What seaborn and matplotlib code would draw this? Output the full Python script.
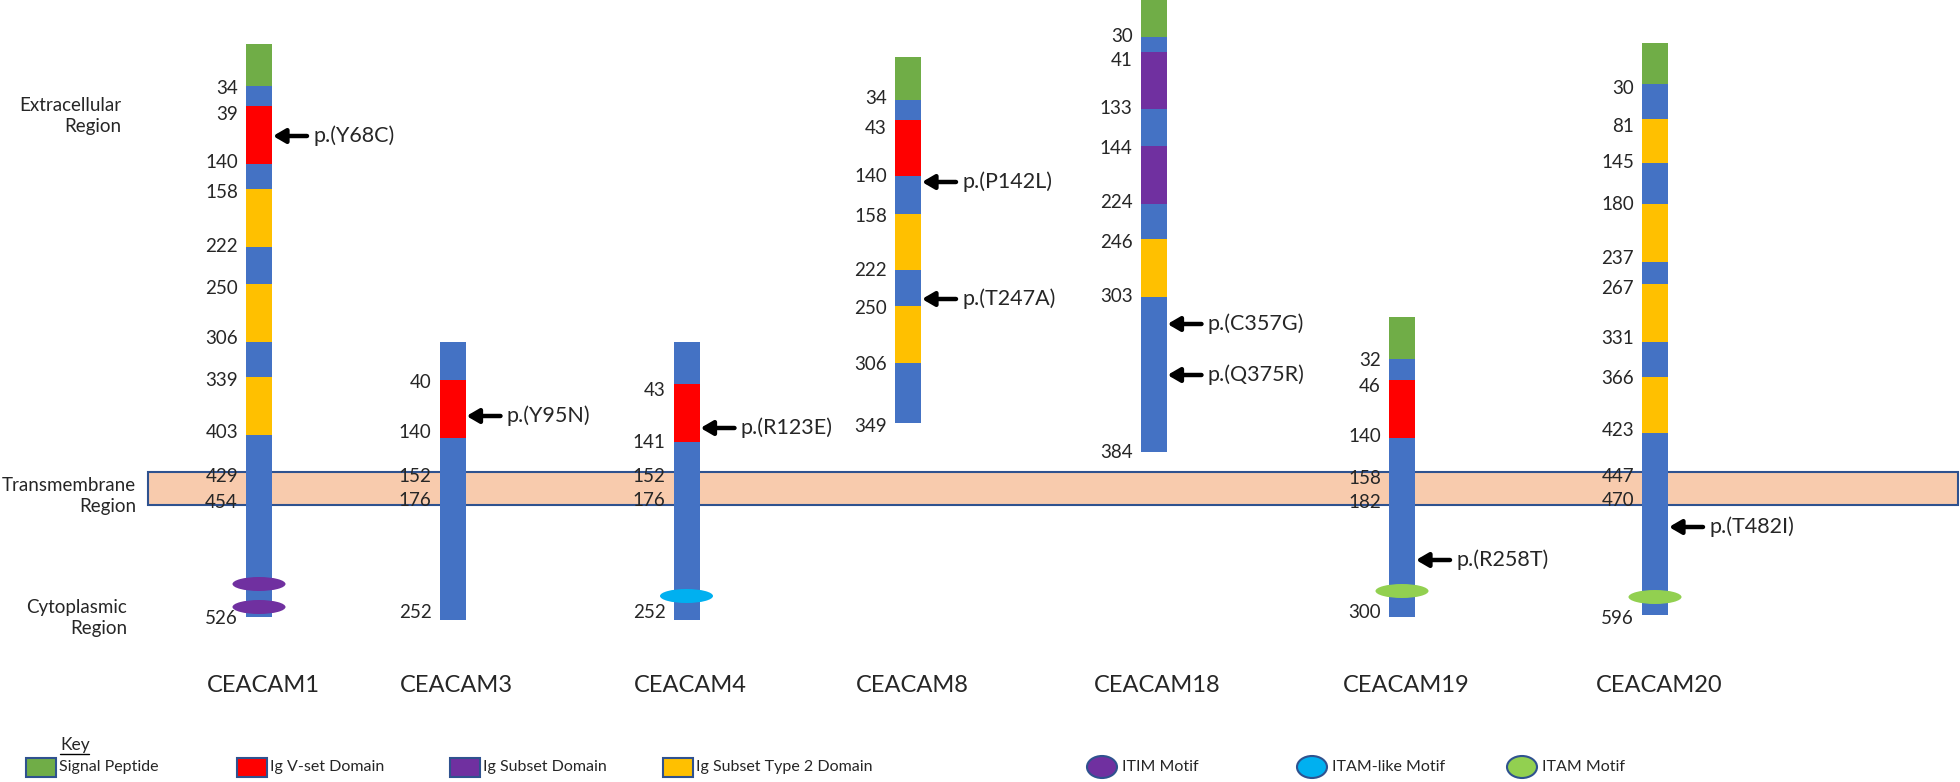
import matplotlib
matplotlib.use("Agg")
import matplotlib.pyplot as plt
from matplotlib.patches import Ellipse, Rectangle
import seaborn as sns

# proteins, left to right
genes = ["CEACAM1", "CEACAM3", "CEACAM4", "CEACAM8", "CEACAM18", "CEACAM19", "CEACAM20"]

# domain segments of each protein (top to bottom) and where each one ends on the schematic track
c1_dom = ["sp", "ln", "v", "ln", "t2", "ln", "t2", "ln", "t2", "ln"]
c1_end = [86, 106, 164, 189, 247, 284, 342, 377, 435, 617]
c3_dom = ["ln", "v", "ln"]
c3_end = [380, 438, 620]
c4_dom = ["ln", "v", "ln"]
c4_end = [384, 442, 620]
c8_dom = ["sp", "ln", "v", "ln", "t2", "ln", "t2", "ln"]
c8_end = [100, 120, 176, 214, 270, 306, 363, 423]
c18_dom = ["sp", "ln", "s", "ln", "s", "ln", "t2", "ln"]
c18_end = [37, 52, 109, 146, 204, 239, 297, 452]
c19_dom = ["sp", "ln", "v", "ln"]
c19_end = [359, 380, 438, 617]
c20_dom = ["sp", "ln", "t2", "ln", "t2", "ln", "t2", "ln", "t2", "ln"]
c20_end = [84, 119, 163, 204, 262, 284, 342, 377, 433, 615]
tops = [44, 342, 342, 57, -5, 317, 43]

# residue numbers printed beside each protein and their track positions
c1_res = [34, 39, 140, 158, 222, 250, 306, 339, 403, 429, 454, 526]
c1_at = [89, 114, 163, 192, 247, 289, 339, 381, 432, 477, 503, 618]
c3_res = [40, 140, 152, 176, 252]
c3_at = [382, 432, 476, 501, 612]
c4_res = [43, 141, 152, 176, 252]
c4_at = [390, 442, 476, 501, 612]
c8_res = [34, 43, 140, 158, 222, 250, 306, 349]
c8_at = [99, 128, 177, 217, 271, 309, 365, 426]
c18_res = [30, 41, 133, 144, 224, 246, 303, 384]
c18_at = [36, 61, 109, 149, 203, 242, 297, 453]
c19_res = [32, 46, 140, 158, 182, 300]
c19_at = [361, 386, 437, 478, 503, 613]
c20_res = [30, 81, 145, 180, 237, 267, 331, 366, 423, 447, 470, 596]
c20_at = [88, 127, 162, 205, 259, 288, 338, 379, 430, 477, 501, 618]

# variants
var_gene = ["CEACAM1", "CEACAM3", "CEACAM4", "CEACAM8", "CEACAM8", "CEACAM18", "CEACAM18", "CEACAM19", "CEACAM20"]
var_name = ["p.(Y68C)", "p.(Y95N)", "p.(R123E)", "p.(P142L)", "p.(T247A)", "p.(C357G)", "p.(Q375R)", "p.(R258T)", "p.(T482I)"]
var_at = [136, 416, 428, 182, 299, 324, 375, 560, 527]

# cytoplasmic motifs
motif_gene = ["CEACAM1", "CEACAM1", "CEACAM4", "CEACAM19", "CEACAM20"]
motif_kind = ["itim", "itim", "itam_like", "itam", "itam"]
motif_at = [584, 607, 596, 591, 597]

domains = [c1_dom, c3_dom, c4_dom, c8_dom, c18_dom, c19_dom, c20_dom]
ends = [c1_end, c3_end, c4_end, c8_end, c18_end, c19_end, c20_end]
residues = [c1_res, c3_res, c4_res, c8_res, c18_res, c19_res, c20_res]
res_at = [c1_at, c3_at, c4_at, c8_at, c18_at, c19_at, c20_at]

# colours (Office palette)
dom_color = {"sp": "#70AD47", "ln": "#4472C4", "v": "#FF0000", "s": "#7030A0", "t2": "#FFC000"}
motif_color = {"itim": "#7030A0", "itam_like": "#00B0F0", "itam": "#92D050"}
edge_blue = "#2F528F"

# layout (pixel coordinates)
W, H = 1960, 782
bar_x = [259, 452.5, 686.5, 908, 1153.5, 1402, 1655]
bar_w = 26

sns.set_theme(style="white")
plt.rcParams["font.family"] = ["Lato", "DejaVu Sans"]

fig = plt.figure(figsize=(W / 100, H / 100), dpi=100)
ax = fig.add_axes([0, 0, 1, 1])
ax.set_xlim(0, W)
ax.set_ylim(H, 0)
ax.axis("off")

# membrane band
ax.add_patch(Rectangle((148, 472), 1958 - 148, 33, facecolor="#F8CBAD",
                       edgecolor=edge_blue, lw=1.5, zorder=1))

# region labels
for txt, y in [("Extracellular\nRegion", 116), ("Transmembrane\nRegion", 496), ("Cytoplasmic\nRegion", 618)]:
    xr = {"E": 121, "T": 136, "C": 127}[txt[0]]
    ax.text(xr, y, txt, ha="right", va="center", fontsize=13.5, linespacing=1.3, zorder=4)

# protein bars
for i, g in enumerate(genes):
    x = bar_x[i]
    start = tops[i]
    for d, e in zip(domains[i], ends[i]):
        ax.bar(x, e - start, bottom=start, width=bar_w, color=dom_color[d], linewidth=0, zorder=2)
        start = e
    for r, y in zip(residues[i], res_at[i]):
        ax.text(x - bar_w / 2 - 8, y, str(r), ha="right", va="center", fontsize=13.5, zorder=4)
    ax.text(x + 4, 686, g, ha="center", va="center", fontsize=17, zorder=4)

# motifs
for g, k, y in zip(motif_gene, motif_kind, motif_at):
    x = bar_x[genes.index(g)]
    ax.add_patch(Ellipse((x, y), 53, 14, facecolor=motif_color[k], edgecolor="none", zorder=3))

# variant arrows
for g, name, y in zip(var_gene, var_name, var_at):
    xr = bar_x[genes.index(g)] + bar_w / 2
    ax.annotate("", xy=(xr + 1, y), xytext=(xr + 35, y),
                arrowprops=dict(arrowstyle="-|>,head_length=0.6,head_width=0.35",
                                lw=3.2, color="black", shrinkA=0, shrinkB=0), zorder=4)
    ax.text(xr + 41, y, name, ha="left", va="center", fontsize=15.5, zorder=4)

# key
ax.text(60, 745, "Key", ha="left", va="center", fontsize=12.5)
ax.plot([60, 89], [754, 754], color="black", lw=1)
box_x = [26, 237, 450, 663]
box_lab = ["Signal Peptide", "Ig V-set Domain", "Ig Subset Domain", "Ig Subset Type 2 Domain"]
box_col = ["sp", "v", "s", "t2"]
for bx, lab, c in zip(box_x, box_lab, box_col):
    ax.add_patch(Rectangle((bx, 758), 30, 19, facecolor=dom_color[c], edgecolor=edge_blue, lw=1.5))
    ax.text(bx + 33, 767, lab, ha="left", va="center", fontsize=11.5)
circ_x = [1102, 1312, 1522]
circ_lab = ["ITIM Motif", "ITAM-like Motif", "ITAM Motif"]
circ_col = ["itim", "itam_like", "itam"]
for cx, lab, c in zip(circ_x, circ_lab, circ_col):
    ax.add_patch(Ellipse((cx, 767), 30, 22, facecolor=motif_color[c], edgecolor=edge_blue, lw=1.5))
    ax.text(cx + 20, 767, lab, ha="left", va="center", fontsize=11.5)

fig.savefig("out.png", dpi=100, facecolor="white")
